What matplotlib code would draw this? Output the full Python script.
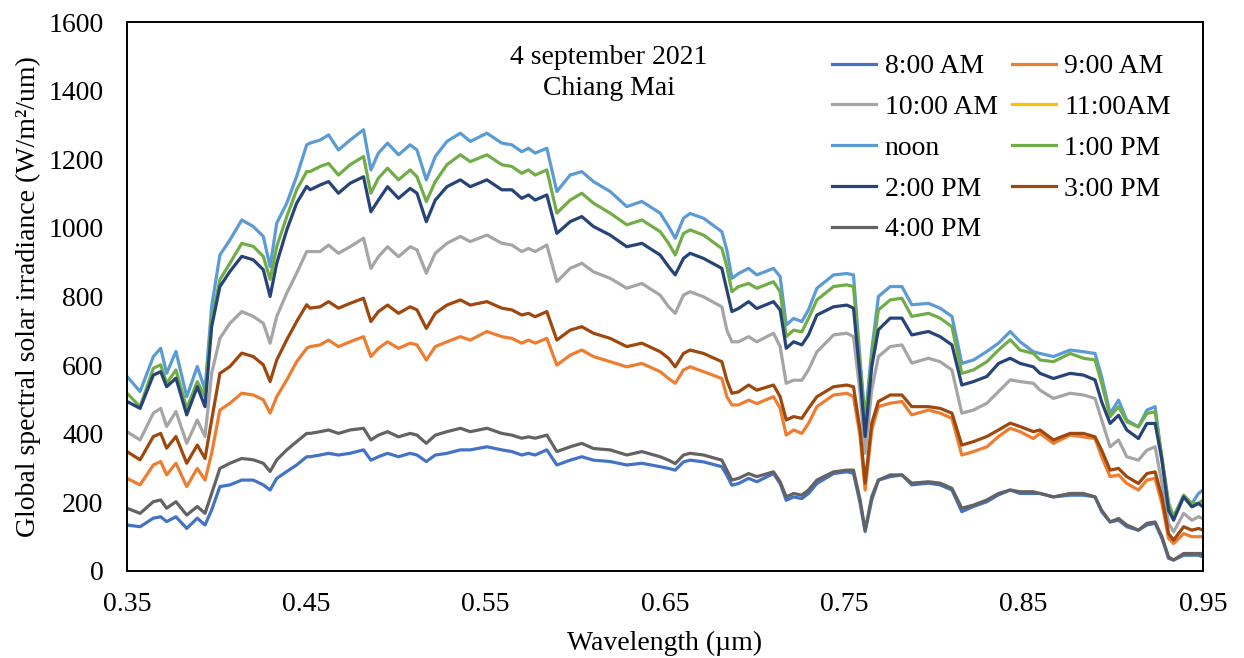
import matplotlib.pyplot as plt

plt.rcParams['font.family'] = ['Liberation Serif', 'DejaVu Serif']

# wavelength grid (um)
wl = [0.3500, 0.3573, 0.3647, 0.3688, 0.3721, 0.3773, 0.3833, 0.3892, 0.3935, 0.3972,
      0.4018, 0.4074, 0.4140, 0.4204, 0.4260, 0.4298, 0.4335, 0.4391, 0.4446, 0.4502,
      0.4521, 0.4577, 0.4624, 0.4679, 0.4744, 0.4819, 0.4860, 0.4902, 0.4953, 0.5014,
      0.5079, 0.5117, 0.5169, 0.5219, 0.5284, 0.5359, 0.5414, 0.5507, 0.5590, 0.5646,
      0.5701, 0.5739, 0.5776, 0.5841, 0.5897, 0.5971, 0.6036, 0.6101, 0.6194, 0.6287,
      0.6371, 0.6473, 0.6520, 0.6557, 0.6603, 0.6640, 0.6715, 0.6817, 0.6845, 0.6873,
      0.6910, 0.6966, 0.7012, 0.7105, 0.7142, 0.7176, 0.7217, 0.7263, 0.7300, 0.7347,
      0.7440, 0.7514, 0.7551, 0.7588, 0.7616, 0.7653, 0.7690, 0.7756, 0.7821, 0.7876,
      0.7969, 0.8034, 0.8100, 0.8155, 0.8220, 0.8295, 0.8360, 0.8425, 0.8480, 0.8554,
      0.8591, 0.8666, 0.8759, 0.8833, 0.8898, 0.8935, 0.8982, 0.9029, 0.9075, 0.9140,
      0.9187, 0.9233, 0.9271, 0.9308, 0.9336, 0.9392, 0.9438, 0.9475, 0.9500]

am8 = [134, 129, 154, 158, 144, 158, 124, 154, 134, 178,
       246, 251, 265, 265, 251, 236, 270, 290, 309, 333,
       333, 338, 343, 338, 343, 353, 323, 333, 343, 333,
       343, 338, 319, 338, 343, 353, 353, 362, 353, 348,
       338, 343, 338, 353, 309, 323, 333, 323, 319, 309,
       314, 304, 299, 294, 318, 323, 318, 304, 279, 250,
       255, 270, 260, 284, 255, 206, 216, 211, 226, 255,
       284, 289, 285, 197, 115, 207, 265, 275, 280, 251,
       256, 251, 236, 173, 188, 202, 222, 236, 226, 226,
       226, 216, 221, 221, 216, 173, 143, 148, 129, 119,
       134, 139, 95, 37, 32, 46, 46, 46, 41]

am9 = [270, 251, 309, 319, 280, 314, 246, 299, 265, 343,
       469, 489, 518, 513, 499, 460, 508, 557, 610, 649,
       654, 659, 673, 654, 668, 683, 625, 649, 668, 649,
       664, 659, 615, 654, 668, 683, 673, 698, 683, 678,
       664, 673, 664, 678, 600, 629, 644, 625, 610, 595,
       605, 581, 561, 547, 586, 595, 581, 561, 508, 484,
       484, 498, 488, 508, 474, 396, 411, 401, 430, 479,
       513, 518, 508, 392, 236, 411, 479, 489, 494, 455,
       469, 460, 445, 338, 348, 362, 392, 416, 406, 386,
       401, 372, 396, 391, 386, 333, 275, 280, 255, 236,
       265, 270, 197, 95, 80, 109, 100, 100, 100]

am10 = [406, 382, 460, 474, 421, 465, 372, 440, 392, 576,
        678, 722, 756, 742, 722, 664, 742, 810, 868, 931,
        931, 931, 950, 926, 945, 970, 882, 916, 945, 916,
        945, 936, 868, 926, 955, 975, 960, 979, 955, 950,
        931, 940, 931, 950, 843, 882, 897, 872, 853, 824,
        838, 804, 770, 751, 804, 814, 799, 770, 702, 668,
        668, 683, 668, 693, 654, 547, 556, 556, 586, 639,
        688, 693, 683, 518, 343, 528, 625, 654, 659, 606,
        620, 610, 586, 460, 469, 489, 523, 557, 552, 547,
        527, 503, 518, 513, 503, 440, 362, 382, 333, 323,
        352, 362, 255, 139, 114, 168, 148, 158, 153]

am11 = []

noon = [567, 523, 625, 649, 576, 640, 508, 596, 528, 771,
        921, 965, 1023, 1004, 975, 887, 1014, 1072, 1150, 1242,
        1247, 1256, 1271, 1227, 1256, 1286, 1169, 1218, 1247, 1213,
        1242, 1227, 1140, 1208, 1252, 1276, 1252, 1276, 1247, 1242,
        1222, 1232, 1218, 1232, 1106, 1154, 1164, 1135, 1106, 1062,
        1077, 1043, 1004, 970, 1028, 1042, 1028, 989, 935, 853,
        867, 882, 863, 882, 858, 717, 736, 727, 761, 824,
        863, 867, 863, 615, 440, 644, 800, 829, 829, 776,
        780, 766, 742, 605, 615, 640, 664, 698, 668, 639,
        634, 625, 644, 639, 634, 566, 459, 498, 440, 420,
        469, 479, 323, 197, 158, 216, 197, 226, 236]

pm1 = [518, 479, 591, 601, 547, 586, 474, 552, 508, 732,
       849, 897, 955, 946, 917, 850, 946, 1033, 1111, 1164,
       1164, 1179, 1188, 1154, 1184, 1208, 1101, 1145, 1174, 1140,
       1169, 1149, 1077, 1135, 1184, 1213, 1193, 1213, 1184, 1179,
       1159, 1169, 1154, 1169, 1043, 1081, 1101, 1072, 1043, 1009,
       1023, 989, 955, 921, 984, 994, 979, 940, 887, 814,
       829, 838, 824, 843, 814, 683, 702, 697, 736, 790,
       829, 834, 829, 596, 431, 625, 761, 790, 795, 742,
       751, 737, 712, 576, 586, 610, 644, 674, 644, 634,
       615, 610, 634, 620, 615, 547, 450, 479, 435, 420,
       459, 464, 333, 197, 158, 221, 197, 197, 207]

pm2 = [494, 474, 571, 581, 537, 562, 455, 537, 479, 712,
       829, 873, 917, 907, 878, 800, 897, 994, 1072, 1121,
       1111, 1125, 1135, 1101, 1130, 1149, 1047, 1081, 1120, 1086,
       1115, 1101, 1018, 1081, 1120, 1140, 1120, 1140, 1111, 1111,
       1086, 1096, 1081, 1096, 984, 1018, 1033, 1004, 979, 945,
       955, 921, 887, 863, 911, 926, 911, 882, 819, 756,
       765, 785, 765, 785, 761, 649, 668, 659, 688, 746,
       770, 775, 766, 567, 392, 596, 703, 737, 737, 688,
       698, 683, 659, 542, 552, 567, 605, 620, 605, 595,
       576, 561, 576, 571, 557, 493, 430, 454, 411, 386,
       430, 430, 323, 177, 148, 216, 187, 197, 187]

pm3 = [348, 324, 392, 401, 358, 392, 314, 367, 328, 440,
       576, 596, 635, 625, 601, 552, 615, 674, 727, 776,
       766, 770, 785, 766, 780, 795, 727, 756, 775, 751,
       770, 761, 707, 751, 775, 790, 775, 785, 766, 761,
       746, 751, 741, 756, 673, 702, 712, 693, 678, 654,
       664, 639, 620, 595, 634, 644, 634, 610, 556, 518,
       522, 542, 527, 542, 508, 440, 450, 445, 474, 508,
       537, 542, 537, 411, 256, 431, 494, 513, 513, 479,
       479, 474, 460, 367, 377, 392, 411, 431, 421, 406,
       411, 382, 401, 401, 391, 352, 294, 299, 275, 255,
       284, 289, 216, 109, 90, 129, 119, 124, 119]

pm4 = [183, 168, 202, 207, 183, 202, 163, 188, 168, 226,
       299, 314, 328, 324, 314, 290, 324, 353, 377, 401,
       401, 406, 411, 401, 411, 416, 382, 396, 406, 391,
       401, 396, 372, 396, 406, 416, 406, 416, 401, 396,
       387, 391, 387, 396, 348, 362, 372, 357, 353, 338,
       348, 333, 323, 313, 338, 343, 338, 323, 294, 265,
       270, 284, 275, 289, 260, 216, 226, 221, 236, 265,
       289, 294, 294, 207, 119, 217, 265, 280, 280, 256,
       260, 256, 241, 183, 192, 207, 226, 236, 231, 231,
       226, 216, 226, 226, 216, 177, 143, 153, 134, 119,
       139, 143, 100, 41, 32, 51, 51, 51, 51]

labels = ['8:00 AM', '9:00 AM', '10:00 AM', '11:00AM', 'noon',
          '1:00 PM', '2:00 PM', '3:00 PM', '4:00 PM']
series = [am8, am9, am10, am11, noon, pm1, pm2, pm3, pm4]
colors = ['#4472C4', '#ED7D31', '#A5A5A5', '#FFC000', '#5B9BD5',
          '#70AD47', '#264478', '#9E480E', '#636363']

FS = 20

fig = plt.figure(figsize=(12.44, 6.58), dpi=100)
ax = fig.add_axes([127 / 1244, 1 - 571 / 658, 1076 / 1244, 549 / 658])

lines = []
for lab, vals, col in zip(labels, series, colors):
    ln, = ax.plot(wl[:len(vals)], vals, color=col, lw=2.3, label=lab,
                  solid_joinstyle='round')
    lines.append(ln)

ax.set_xlim(0.35, 0.95)
ax.set_ylim(0, 1600)
ax.set_xticks([0.35, 0.45, 0.55, 0.65, 0.75, 0.85, 0.95])
ax.set_xticklabels(['0.35', '0.45', '0.55', '0.65', '0.75', '0.85', '0.95'])
ax.set_yticks(range(0, 1601, 200))
ax.tick_params(axis='both', length=0, labelsize=FS)
ax.tick_params(axis='x', pad=15)
ax.tick_params(axis='y', pad=17)
for s in ax.spines.values():
    s.set_linewidth(1.4)
    s.set_color('black')

ax.set_xlabel('Wavelength (µm)', fontsize=FS, labelpad=10)
ax.set_ylabel('Global spectral solar irradiance (W/m²/um)', fontsize=FS, labelpad=5)

ax.text(0.448, 0.958, '4 september 2021\nChiang Mai', transform=ax.transAxes,
        ha='center', va='top', fontsize=FS, linespacing=1.3)

# two-column legend filled row by row
order = [0, 2, 4, 6, 8, 1, 3, 5, 7]
ax.legend([lines[i] for i in order], [labels[i] for i in order],
          loc='upper left', bbox_to_anchor=(818 / 1244, 1 - 40 / 658),
          bbox_transform=fig.transFigure, ncol=2, frameon=False,
          fontsize=FS, handlelength=1.6, handletextpad=0.3,
          columnspacing=0.5, labelspacing=0.55, borderpad=0)

fig.savefig('out.png', dpi=100)
